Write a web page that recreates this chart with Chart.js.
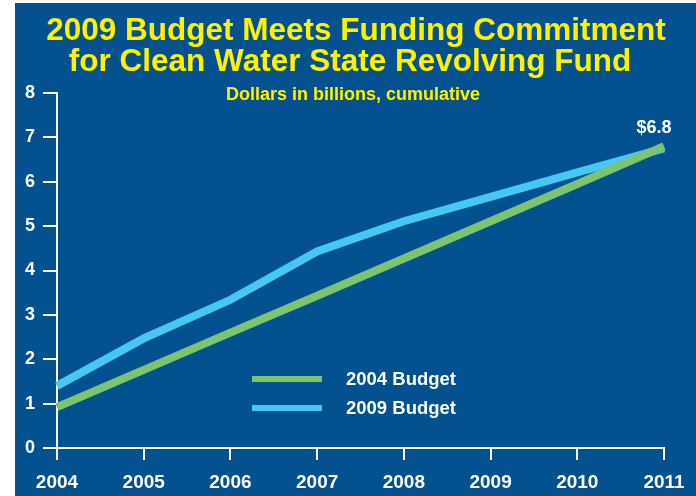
<!DOCTYPE html>
<html>
<head>
<meta charset="utf-8">
<script src="https://cdn.jsdelivr.net/npm/chart.js@4"></script>
<style>
  html, body { margin: 0; padding: 0; background: #fff; }
  #wrap { width: 696px; height: 496px; position: relative; }
</style>
</head>
<body>
<div id="wrap"><canvas id="fundChart" width="696" height="496"></canvas></div>
<script>
// data
const years = ['2004', '2005', '2006', '2007', '2008', '2009', '2010', '2011'];
const budget2004 = [0.92, 1.76, 2.6, 3.43, 4.27, 5.11, 5.95, 6.8];
const budget2009 = [1.4, 2.47, 3.34, 4.43, 5.11, 5.66, 6.21, 6.75];
const yTicks = [0, 1, 2, 3, 4, 5, 6, 7, 8];
const titleLines = ['2009 Budget Meets Funding Commitment', 'for Clean Water State Revolving Fund'];
const subtitle = 'Dollars in billions, cumulative';

const BG = '#03518f';
const YELLOW = '#fff200';
const GREEN = '#7bc470';
const BLUE = '#45c8f4';
const FONT = '"Liberation Sans", Arial, sans-serif';

// panel, titles, legend and end label
const decor = {
  id: 'decor',
  beforeDraw(chart) {
    const c = chart.ctx;
    c.save();
    c.fillStyle = BG;
    c.fillRect(15, 3, chart.width - 15, chart.height - 3);
    c.restore();
  },
  afterDraw(chart) {
    const c = chart.ctx;
    c.save();
    c.textAlign = 'center';
    c.textBaseline = 'alphabetic';
    c.fillStyle = YELLOW;
    c.font = 'bold 31.5px ' + FONT;
    c.fillText(titleLines[0], 356, 40);
    c.fillText(titleLines[1], 350, 71);
    c.font = 'bold 18px ' + FONT;
    c.fillText(subtitle, 353, 100);

    // end value label
    const xs = chart.scales.x, ys = chart.scales.y;
    const last = budget2004[budget2004.length - 1];
    c.fillStyle = '#fff';
    c.font = 'bold 18px ' + FONT;
    c.fillText('$' + last, xs.getPixelForValue(years.length - 1) - 10, ys.getPixelForValue(last) - 13);

    // legend inside plot
    c.textAlign = 'left';
    c.textBaseline = 'middle';
    c.font = 'bold 18.5px ' + FONT;
    chart.data.datasets.forEach((ds, i) => {
      const y = 379 + i * 29;
      c.strokeStyle = ds.borderColor;
      c.lineWidth = 6;
      c.beginPath();
      c.moveTo(252, y);
      c.lineTo(322, y);
      c.stroke();
      c.fillStyle = '#fff';
      c.fillText(ds.label, 346, y + 1);
    });
    c.restore();
  }
};

const ctx = document.getElementById('fundChart').getContext('2d');
new Chart(ctx, {
  type: 'line',
  data: {
    labels: years,
    datasets: [
      { label: '2004 Budget', data: budget2004, borderColor: GREEN, borderWidth: 8, pointRadius: 0, tension: 0, clip: false },
      { label: '2009 Budget', data: budget2009, borderColor: BLUE, borderWidth: 8, pointRadius: 0, tension: 0, clip: false }
    ]
  },
  options: {
    responsive: false,
    animation: false,
    layout: { padding: { left: 0, right: 32, top: 93, bottom: 0 } },
    plugins: { legend: { display: false }, tooltip: { enabled: false } },
    scales: {
      x: {
        offset: false,
        afterFit(s) { s.height = 48; },
        border: { color: '#fff', width: 2 },
        grid: { drawOnChartArea: false, drawTicks: true, tickLength: 12, color: '#fff', lineWidth: 2 },
        ticks: { color: '#fff', font: { family: FONT, size: 19, weight: 'bold' }, padding: 11, maxRotation: 0 }
      },
      y: {
        min: 0,
        max: 8,
        afterFit(s) { s.width = 57; },
        afterBuildTicks(s) { s.ticks = yTicks.map(v => ({ value: v })); },
        border: { color: '#fff', width: 2 },
        grid: { drawOnChartArea: false, drawTicks: true, tickLength: 14, color: '#fff', lineWidth: 2 },
        ticks: { color: '#fff', font: { family: FONT, size: 18, weight: 'bold' }, padding: 8 }
      }
    }
  },
  plugins: [decor]
});
</script>
</body>
</html>
